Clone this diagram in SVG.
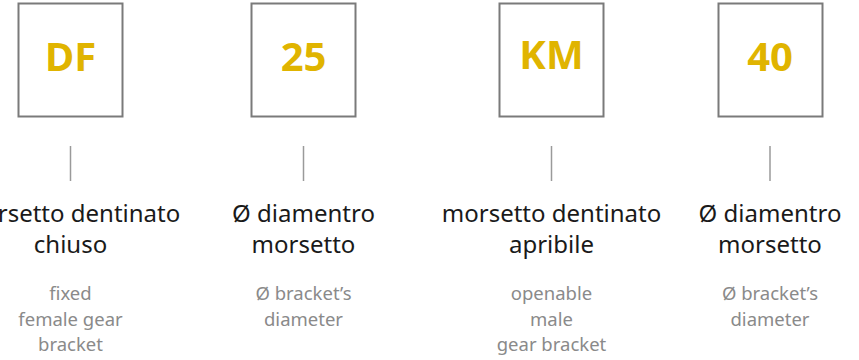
<svg xmlns="http://www.w3.org/2000/svg" width="859" height="360" viewBox="0 0 859 360">
<style>
.box{fill:#fff;stroke:#7a7a7a;stroke-width:2}
.code{font-family:"Open Sans","Noto Sans",sans-serif;font-weight:bold;font-size:40px;fill:#e0b400;text-anchor:middle}
.main{font-family:"Noto Sans","Open Sans",sans-serif;font-size:24px;fill:#1a1a1a;text-anchor:middle}
.sub{font-family:"Noto Sans","Open Sans",sans-serif;font-size:18.5px;fill:#8a8a8a;text-anchor:middle}
.conn{stroke:#9a9a9a;stroke-width:1.5}
</style>
<rect width="859" height="360" fill="#fff"/>
<g id="connectors">
<line class="conn" x1="70.5" y1="146" x2="70.5" y2="181"/>
<line class="conn" x1="303.5" y1="146" x2="303.5" y2="181"/>
<line class="conn" x1="551.5" y1="146" x2="551.5" y2="181"/>
<line class="conn" x1="770" y1="146" x2="770" y2="181"/>
</g>
<g id="node-df">
<rect class="box" x="18.5" y="3.5" width="104" height="113"/>
<text class="code" x="70.5" y="71">DF</text>
<text class="main" x="70.5" y="222">morsetto dentinato</text>
<text class="main" x="70.5" y="253">chiuso</text>
<text class="sub" x="70.5" y="300">fixed</text>
<text class="sub" x="70.5" y="326">female gear</text>
<text class="sub" x="70.5" y="351">bracket</text>
</g>
<g id="node-25">
<rect class="box" x="251.5" y="3.5" width="104" height="113"/>
<text class="code" x="303.5" y="71">25</text>
<text class="main" x="303.5" y="222">Ø diamentro</text>
<text class="main" x="303.5" y="253">morsetto</text>
<text class="sub" x="303.5" y="300">Ø bracket’s</text>
<text class="sub" x="303.5" y="326">diameter</text>
</g>
<g id="node-km">
<rect class="box" x="499.5" y="3.5" width="104" height="113"/>
<text class="code" x="551.5" y="69">KM</text>
<text class="main" x="551.5" y="222">morsetto dentinato</text>
<text class="main" x="551.5" y="253">apribile</text>
<text class="sub" x="551.5" y="300">openable</text>
<text class="sub" x="551.5" y="326">male</text>
<text class="sub" x="551.5" y="351">gear bracket</text>
</g>
<g id="node-40">
<rect class="box" x="718.5" y="3.5" width="104" height="113"/>
<text class="code" x="770" y="71">40</text>
<text class="main" x="770" y="222">Ø diamentro</text>
<text class="main" x="770" y="253">morsetto</text>
<text class="sub" x="770" y="300">Ø bracket’s</text>
<text class="sub" x="770" y="326">diameter</text>
</g>
</svg>
